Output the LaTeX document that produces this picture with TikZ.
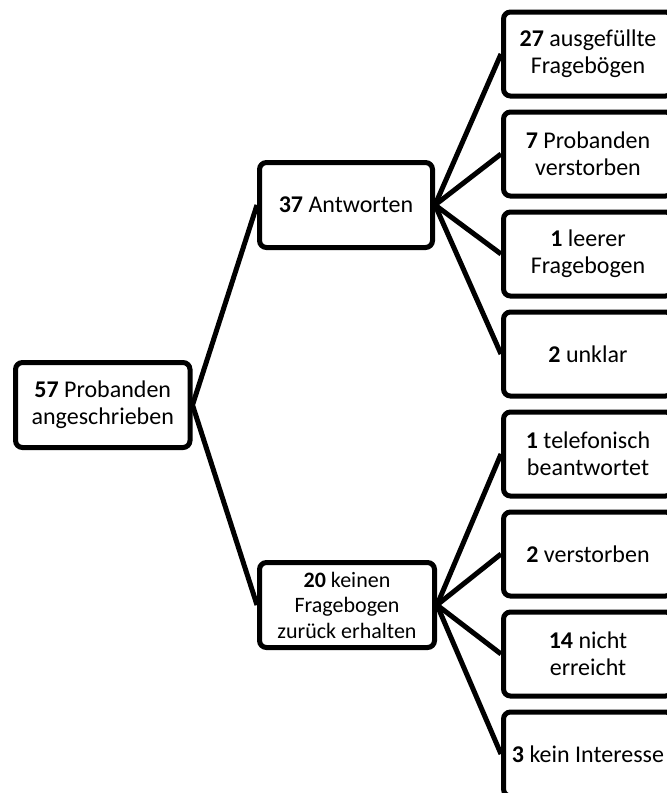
\documentclass[tikz,border=0pt]{standalone}
\usepackage{fontspec}
\setmainfont{Carlito}
\begin{document}
\begin{tikzpicture}[x=1pt,y=-1pt,
  box/.style={draw=black, line width=5pt, rounded corners=7pt, fill=white,
    align=center, inner sep=0pt, minimum height=85pt,
    font=\fontsize{24}{27}\selectfont},
  leaf/.style={box, minimum width=169pt, minimum height=84pt},
  link/.style={draw=black, line width=5pt}]
\useasboundingbox (0,0) rectangle (667,793);
\clip (0,0) rectangle (667,793);
\node[box, minimum width=174.5pt] (root) at (102.75,405) {\textbf{57} Probanden\\angeschrieben};
\node[box, minimum width=173pt] (ant) at (346,205) {\textbf{37} Antworten};
\node[box, minimum width=175pt, font=\fontsize{22}{25.5}\selectfont] (kein) at (347,605) {\textbf{20} keinen\\Fragebogen\\zurück erhalten};
\node[leaf] (a1) at (588,54) {\textbf{27} ausgefüllte\\Fragebögen};
\node[leaf] (a2) at (588,154) {\textbf{7} Probanden\\verstorben};
\node[leaf] (a3) at (588,254) {\textbf{1} leerer\\Fragebogen};
\node[leaf] (a4) at (588,354) {\textbf{2} unklar};
\node[leaf] (k1) at (588,454) {\textbf{1} telefonisch\\beantwortet};
\node[leaf] (k2) at (588,554) {\textbf{2} verstorben};
\node[leaf] (k3) at (588,654) {\textbf{14} nicht\\erreicht};
\node[leaf] (k4) at (588,754) {\textbf{3} kein Interesse};
\draw[link] (root.east) -- (ant.west);
\draw[link] (root.east) -- (kein.west);
\foreach \n in {a1,a2,a3,a4} \draw[link] (ant.east) -- (\n.west);
\foreach \n in {k1,k2,k3,k4} \draw[link] (kein.east) -- (\n.west);
\end{tikzpicture}
\end{document}
